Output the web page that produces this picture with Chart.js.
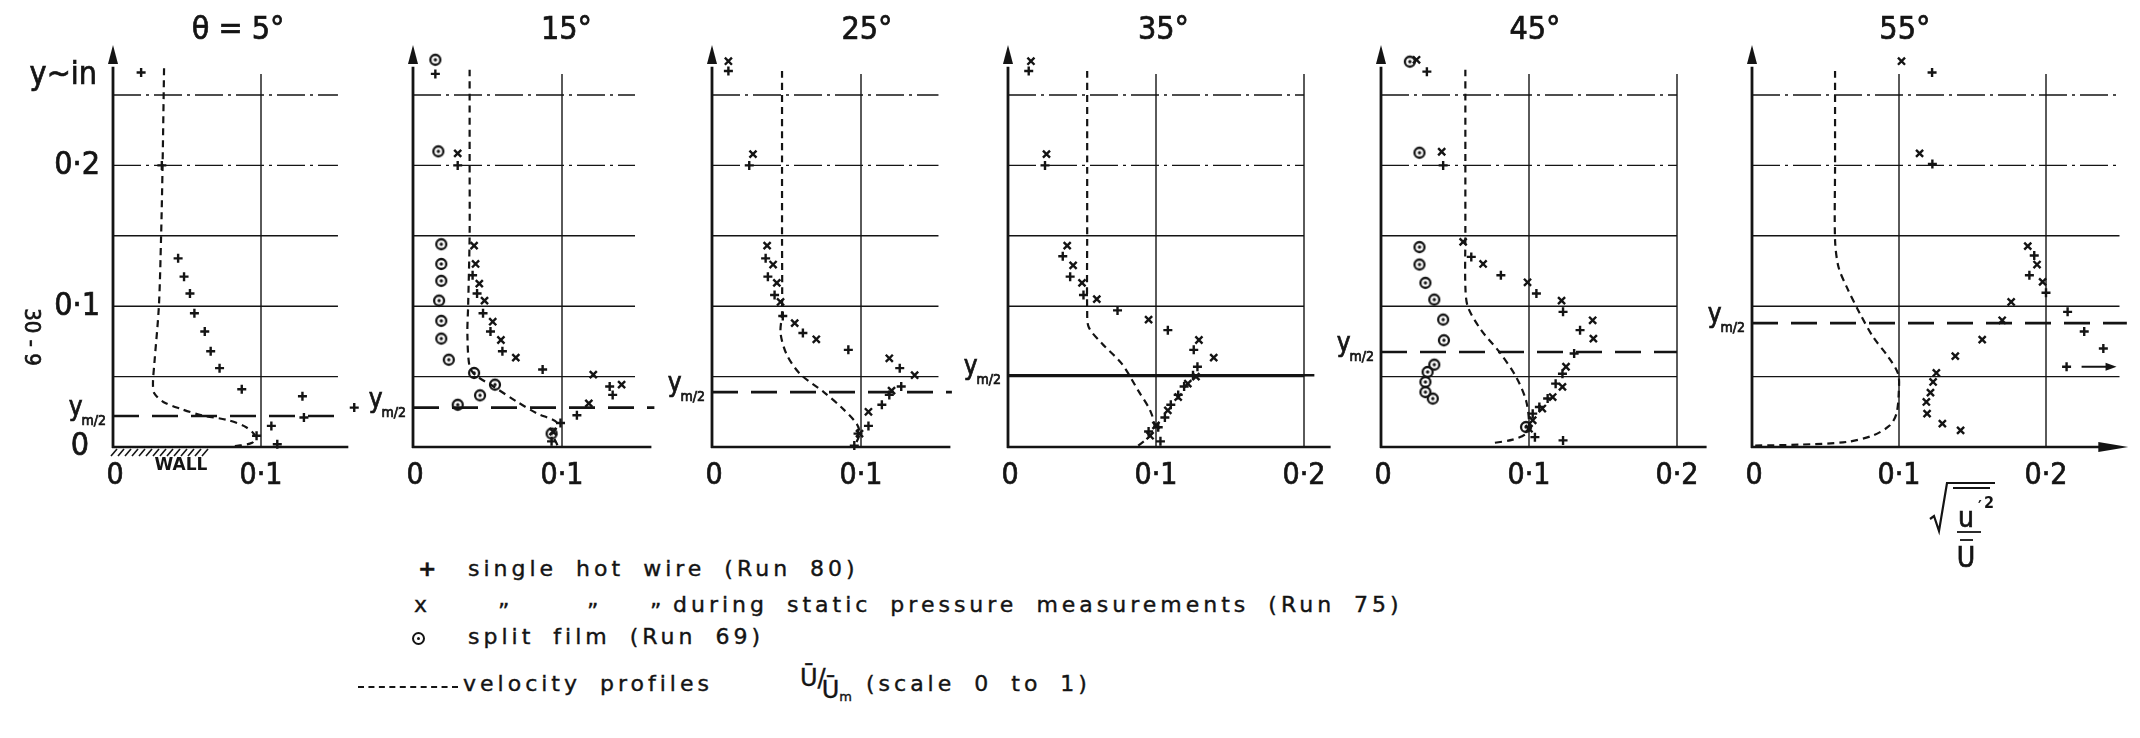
<!DOCTYPE html>
<html lang="en">
<head>
<meta charset="UTF-8" />
<title>u' intensity profiles, theta = 5 to 55 deg</title>
<script src="https://cdn.jsdelivr.net/npm/chart.js"></script>
<style>
  body {
    margin: 0;
    background: #fff;
    width: 2140px;
    height: 738px;
    position: relative;
    overflow: hidden;
    font-family: 'DejaVu Sans', sans-serif;
    color: #141414;
  }
  canvas.panel { position: absolute; top: 0; }
  .leg {
    position: absolute;
    font-size: 22px;
    line-height: 22px;
    letter-spacing: 4px;
    word-spacing: 8px;
    white-space: nowrap;
    -webkit-text-stroke: 0.4px #141414;
  }
  .sym { letter-spacing: 0; }
  .ring {
    position: absolute;
    width: 9px; height: 9px;
    border: 2px solid #141414;
    border-radius: 50%;
  }
  .ring::after {
    content: '';
    position: absolute;
    left: 3px; top: 3px;
    width: 3px; height: 3px;
    border-radius: 50%;
    background: #141414;
  }
  .dash {
    position: absolute;
    height: 0;
    border-top: 2px dashed #141414;
  }
  .frac { letter-spacing: 0; font-size: 24px; }
  .frac .den { position: relative; top: 12px; margin-left: -4px; }
  .frac sub { font-size: 13px; vertical-align: -3px; }
</style>
</head>
<body>

<!-- legend -->
<div class="leg sym" style="left:418px; top:558px; font-weight:bold;">+</div>
<div class="leg" style="left:468px; top:558px;">single hot wire (Run 80)</div>

<div class="leg sym" style="left:414px; top:594px;">x</div>
<div class="leg sym" style="left:498px; top:601px;">”</div>
<div class="leg sym" style="left:587px; top:601px;">”</div>
<div class="leg sym" style="left:650px; top:601px;">”</div>
<div class="leg" style="left:673px; top:594px;">during static pressure measurements (Run 75)</div>

<div class="ring" style="left:412px; top:632px;"></div>
<div class="leg" style="left:468px; top:626px;">split film (Run 69)</div>

<div class="dash" style="left:358px; width:100px; top:686px;"></div>
<div class="leg" style="left:463px; top:673px;">velocity profiles</div>
<div class="leg frac" style="left:800px; top:667px;">Ū/<span class="den">Ū<sub>m</sub></span></div>
<div class="leg" style="left:866px; top:673px;">(scale 0 to 1)</div>

<script>
  // ---- data (x = sqrt(u'^2)/U, y in inches) ----
  const titles = ['θ = 5°', '15°', '25°', '35°', '45°', '55°'];
  const gridLevels = [0.05, 0.1, 0.15, 0.2, 0.25];
  const yTicks5 = [0, 0.1, 0.2];
  const ymHalf = [0.022, 0.028, 0.039, 0.051, 0.0675, 0.088];

  const wire5 = [[0.019,0.266],[0.033,0.200],[0.044,0.134],[0.048,0.121],[0.052,0.109],[0.055,0.095],[0.062,0.082],[0.066,0.068],[0.072,0.056],[0.087,0.041],[0.128,0.036],[0.163,0.028],[0.129,0.021],[0.107,0.015],[0.097,0.008],[0.111,0.002]];
  const profile5 = [[0.0345,0.269],[0.0335,0.200],[0.0325,0.150],[0.031,0.100],[0.028,0.060],[0.027,0.045],[0.028,0.038],[0.034,0.032],[0.046,0.027],[0.060,0.0225],[0.078,0.019],[0.090,0.014],[0.096,0.008],[0.094,0.003],[0.082,0.0005]];

  const wire15 = [[0.015,0.265],[0.030,0.200],[0.040,0.122],[0.043,0.109],[0.047,0.095],[0.052,0.082],[0.060,0.068],[0.087,0.055],[0.132,0.043],[0.134,0.037],[0.110,0.0225],[0.099,0.017],[0.093,0.004]];
  const static15 = [[0.030,0.2085],[0.041,0.143],[0.042,0.130],[0.0445,0.116],[0.048,0.104],[0.0535,0.089],[0.059,0.076],[0.069,0.0635],[0.121,0.0514],[0.140,0.0443],[0.118,0.031],[0.094,0.011]];
  const film15 = [[0.015,0.275],[0.017,0.210],[0.019,0.144],[0.019,0.130],[0.019,0.118],[0.0175,0.104],[0.019,0.0896],[0.019,0.077],[0.024,0.062],[0.041,0.0526],[0.055,0.0443],[0.045,0.0367],[0.030,0.030],[0.093,0.0095]];
  const profile15 = [[0.038,0.268],[0.038,0.200],[0.038,0.150],[0.037,0.100],[0.0365,0.080],[0.038,0.057],[0.042,0.051],[0.054,0.043],[0.070,0.032],[0.083,0.024],[0.097,0.017],[0.094,0.0095],[0.097,0.001]];

  const wire25 = [[0.011,0.267],[0.025,0.200],[0.036,0.134],[0.0375,0.121],[0.042,0.108],[0.0475,0.093],[0.061,0.081],[0.0915,0.069],[0.126,0.056],[0.127,0.043],[0.119,0.037],[0.114,0.030],[0.105,0.015],[0.098,0.0095],[0.0955,0.001]];
  const static25 = [[0.011,0.274],[0.0275,0.208],[0.037,0.143],[0.041,0.1296],[0.0435,0.1166],[0.046,0.103],[0.0555,0.088],[0.070,0.0765],[0.119,0.063],[0.136,0.051],[0.1205,0.040],[0.105,0.025],[0.099,0.0095]];
  const profile25 = [[0.047,0.267],[0.047,0.200],[0.047,0.150],[0.047,0.095],[0.046,0.081],[0.050,0.066],[0.059,0.052],[0.075,0.039],[0.087,0.028],[0.097,0.0166],[0.099,0.0095],[0.0955,0]];

  const wire35 = [[0.014,0.267],[0.025,0.200],[0.037,0.1355],[0.042,0.121],[0.051,0.108],[0.074,0.097],[0.108,0.083],[0.1255,0.069],[0.128,0.057],[0.125,0.051],[0.119,0.043],[0.115,0.037],[0.110,0.030],[0.106,0.021],[0.1015,0.014],[0.095,0.011],[0.103,0.004]];
  const static35 = [[0.0155,0.274],[0.026,0.208],[0.040,0.143],[0.044,0.129],[0.050,0.1166],[0.060,0.105],[0.095,0.0905],[0.129,0.076],[0.139,0.0635],[0.127,0.050],[0.1215,0.045],[0.115,0.0355],[0.108,0.026],[0.100,0.0154],[0.096,0.008]];
  const profile35 = [[0.0535,0.267],[0.0535,0.200],[0.0535,0.150],[0.0535,0.097],[0.0546,0.085],[0.0635,0.0735],[0.077,0.059],[0.088,0.040],[0.096,0.026],[0.099,0.014],[0.095,0.007],[0.088,0.001]];

  const wire45 = [[0.031,0.2666],[0.042,0.200],[0.061,0.135],[0.081,0.122],[0.105,0.109],[0.123,0.096],[0.1345,0.083],[0.1305,0.0664],[0.1226,0.052],[0.118,0.045],[0.1126,0.0344],[0.107,0.0284],[0.1025,0.0237],[0.104,0.007],[0.123,0.0047]];
  const static45 = [[0.024,0.275],[0.041,0.2097],[0.0555,0.1457],[0.069,0.130],[0.099,0.117],[0.122,0.104],[0.143,0.090],[0.1435,0.077],[0.125,0.057],[0.1226,0.0427],[0.116,0.0355],[0.109,0.0273],[0.1025,0.019],[0.100,0.013]];
  const film45 = [[0.0195,0.2737],[0.026,0.209],[0.026,0.142],[0.026,0.1296],[0.030,0.1166],[0.036,0.1047],[0.042,0.0905],[0.0425,0.0758],[0.036,0.0585],[0.0315,0.0533],[0.030,0.0462],[0.030,0.039],[0.035,0.0344],[0.098,0.0142]];
  const profile45 = [[0.057,0.268],[0.057,0.200],[0.057,0.150],[0.057,0.114],[0.0587,0.0995],[0.0677,0.083],[0.080,0.0675],[0.0913,0.0498],[0.098,0.033],[0.100,0.0166],[0.098,0.0095],[0.089,0.0052],[0.0756,0.0028]];

  const wire55 = [[0.1225,0.266],[0.1227,0.201],[0.192,0.136],[0.1887,0.122],[0.200,0.1095],[0.2147,0.096],[0.226,0.082],[0.239,0.070],[0.214,0.057]];
  const static55 = [[0.1017,0.274],[0.114,0.2085],[0.1876,0.1427],[0.1939,0.1296],[0.1977,0.1173],[0.1763,0.103],[0.1702,0.090],[0.1566,0.0763],[0.1383,0.0645],[0.1254,0.0526],[0.1232,0.0462],[0.1214,0.0386],[0.1186,0.032],[0.1191,0.0237],[0.1295,0.0166],[0.1419,0.0118]];
  const profile55 = [[0.0565,0.267],[0.0565,0.200],[0.0565,0.147],[0.0588,0.128],[0.0644,0.1137],[0.0734,0.0948],[0.0825,0.078],[0.0927,0.064],[0.0994,0.052],[0.0999,0.040],[0.0983,0.0237],[0.0938,0.0154],[0.0825,0.0083],[0.0644,0.0036],[0.0328,0.0017],[0.001,0.001]];

  const series = [
    { wire: wire5,  stat: [],       film: [],     prof: profile5 },
    { wire: wire15, stat: static15, film: film15, prof: profile15 },
    { wire: wire25, stat: static25, film: [],     prof: profile25 },
    { wire: wire35, stat: static35, film: [],     prof: profile35 },
    { wire: wire45, stat: static45, film: film45, prof: profile45 },
    { wire: wire55, stat: static55, film: [],     prof: profile55 },
  ];

  // ---- page layout of the six panels ----
  const INK = '#141414';
  const NARROW = '"Liberation Sans Narrow", "DejaVu Sans Condensed", "DejaVu Sans", sans-serif';
  const AXIS_Y = 447, PX_Y = 1408, Y_MAX = 0.3, H = 600, PAD_L = 100;

  const layout = [
    { x0: 113,  x01: 261,  xmax: 0.159, gridEnd: 0.152, ymEnd: 0.155, titleAt: 0.0845, xTicks: [0, 0.1] },
    { x0: 413,  x01: 562,  xmax: 0.160, gridEnd: 0.149, ymEnd: 0.162, titleAt: 0.103,  xTicks: [0, 0.1] },
    { x0: 712,  x01: 861,  xmax: 0.160, gridEnd: 0.152, ymEnd: 0.161, titleAt: 0.104,  xTicks: [0, 0.1] },
    { x0: 1008, x01: 1156, xmax: 0.218, gridEnd: 0.200, ymEnd: 0.207, titleAt: 0.105,  xTicks: [0, 0.1, 0.2], ymSolid: true },
    { x0: 1381, x01: 1529, xmax: 0.220, gridEnd: 0.200, ymEnd: 0.200, titleAt: 0.104,  xTicks: [0, 0.1, 0.2] },
    { x0: 1752, x01: 1899, xmax: 0.256, gridEnd: 0.250, ymEnd: 0.255, titleAt: 0.104,  xTicks: [0, 0.1, 0.2], xArrow: true },
  ];

  const pt = a => a.map(([x, y]) => ({ x, y }));
  const fmt = v => v === 0 ? '0' : v.toFixed(1).replace('.', '·');

  // circle-with-dot marker for the split film
  const filmMark = document.createElement('canvas');
  filmMark.width = filmMark.height = 16;
  (function () {
    const g = filmMark.getContext('2d');
    g.strokeStyle = INK; g.fillStyle = INK; g.lineWidth = 2.3;
    g.beginPath(); g.arc(8, 8, 5, 0, 2 * Math.PI); g.stroke();
    g.beginPath(); g.arc(8, 8, 1.7, 0, 2 * Math.PI); g.fill();
  })();

  function line(ctx, x1, y1, x2, y2) {
    ctx.beginPath(); ctx.moveTo(x1, y1); ctx.lineTo(x2, y2); ctx.stroke();
  }

  // filled text with a thin outline, to get the heavier scanned lettering
  function ink(ctx, text, x, y) {
    ctx.fillText(text, x, y);
    ctx.lineWidth = 0.7;
    ctx.strokeText(text, x, y);
  }

  function drawYm(ctx, right, y) {
    ctx.save();
    ctx.textAlign = 'left'; ctx.textBaseline = 'alphabetic';
    ctx.font = `26px ${NARROW}`; const wy = ctx.measureText('y').width;
    ctx.font = `14px ${NARROW}`; const ws = ctx.measureText('m/2').width;
    const left = right - wy - ws;
    ctx.font = `26px ${NARROW}`; ink(ctx, 'y', left, y - 1);
    ctx.font = `14px ${NARROW}`; ink(ctx, 'm/2', left + wy - 1, y + 9);
    ctx.restore();
  }

  function makeDecor(i, left) {
    const L = layout[i];
    const P = xPage => xPage - left;
    return {
      id: 'decor' + i,
      beforeDatasetsDraw(chart) {
        const ctx = chart.ctx, xs = chart.scales.x, ys = chart.scales.y;
        const X = v => xs.getPixelForValue(v), Y = v => ys.getPixelForValue(v);
        ctx.save();
        ctx.strokeStyle = INK;
        ctx.lineWidth = 1.4;
        gridLevels.forEach(g => {
          ctx.setLineDash(g >= 0.2 ? [28, 5, 3, 5] : []);
          line(ctx, X(0), Y(g), X(L.gridEnd), Y(g));
        });
        ctx.setLineDash([]);
        L.xTicks.filter(t => t > 0).forEach(t => line(ctx, X(t), Y(0), X(t), Y(0.265)));
        ctx.lineWidth = 2.6;
        ctx.setLineDash(L.ymSolid ? [] : [26, 13]);
        line(ctx, X(0), Y(ymHalf[i]), X(L.ymEnd), Y(ymHalf[i]));
        ctx.restore();
      },
      afterDatasetsDraw(chart) {
        const ctx = chart.ctx, xs = chart.scales.x, ys = chart.scales.y;
        const X = v => xs.getPixelForValue(v), Y = v => ys.getPixelForValue(v);
        ctx.save();
        ctx.strokeStyle = INK; ctx.fillStyle = INK;

        // axes with arrow heads
        ctx.lineWidth = 2.8;
        line(ctx, X(0), Y(0) + 1, X(0), Y(0.27));
        ctx.beginPath();
        ctx.moveTo(X(0), Y(0.2855)); ctx.lineTo(X(0) - 5, Y(0.2855) + 19); ctx.lineTo(X(0) + 5, Y(0.2855) + 19);
        ctx.closePath(); ctx.fill();
        ctx.lineWidth = 2.4;
        line(ctx, X(0) - 1, Y(0), X(L.xmax) - (L.xArrow ? 20 : 0), Y(0));
        if (L.xArrow) {
          const tx = X(L.xmax);
          ctx.beginPath(); ctx.moveTo(tx, Y(0)); ctx.lineTo(tx - 30, Y(0) - 5); ctx.lineTo(tx - 30, Y(0) + 5);
          ctx.closePath(); ctx.fill();
        }

        // tick labels and title
        ctx.textAlign = 'center'; ctx.textBaseline = 'middle';
        ctx.font = `30px ${NARROW}`;
        L.xTicks.forEach(t => ink(ctx, fmt(t), X(t) + (t === 0 ? 2 : 0), 476));
        ctx.font = `32px ${NARROW}`;
        ink(ctx, titles[i], X(L.titleAt), 31);

        drawYm(ctx, X(0) - 6, Y(ymHalf[i]));

        if (i === 0) {
          ctx.textAlign = 'right';
          ctx.font = `32px ${NARROW}`;
          yTicks5.forEach(t => ink(ctx, fmt(t), t === 0 ? P(89) : P(100), Y(t)));
          ink(ctx, 'y~in', P(97), 76);
          // rotated figure number
          ctx.save();
          ctx.translate(P(31), 337); ctx.rotate(Math.PI / 2);
          ctx.textAlign = 'center'; ctx.font = `22px ${NARROW}`;
          ink(ctx, '30 - 9', 0, 0);
          ctx.restore();
          // wall hatching
          ctx.lineWidth = 1.6;
          for (let hx = P(111); hx < P(206); hx += 7) line(ctx, hx + 6, Y(0) + 2, hx, Y(0) + 9);
          ctx.textAlign = 'center';
          ctx.font = `bold 17px 'DejaVu Sans', sans-serif`;
          ctx.fillText('WALL', P(181), 466);
        }

        if (i === 5) {
          // off-scale arrow next to the last single-wire point
          const last = wire55[wire55.length - 1];
          const ax = X(last[0]), ay = Y(last[1]);
          ctx.lineWidth = 2;
          line(ctx, ax + 15, ay, ax + 42, ay);
          ctx.beginPath(); ctx.moveTo(ax + 50, ay); ctx.lineTo(ax + 39, ay - 4); ctx.lineTo(ax + 39, ay + 4);
          ctx.closePath(); ctx.fill();

          // axis quantity: sqrt(u'^2) / U
          ctx.lineWidth = 2.2;
          ctx.beginPath();
          ctx.moveTo(P(1930), 519); ctx.lineTo(P(1934), 516); ctx.lineTo(P(1939), 531);
          ctx.lineTo(P(1947), 483); ctx.lineTo(P(1995), 483);
          ctx.stroke();
          ctx.lineWidth = 1.8;
          line(ctx, P(1953), 488, P(1990), 488);
          line(ctx, P(1957), 532, P(1981), 532);
          line(ctx, P(1960), 540, P(1973), 540);
          ctx.textAlign = 'center'; ctx.textBaseline = 'alphabetic';
          ctx.font = `28px ${NARROW}`;
          ink(ctx, 'u', P(1966), 527);
          ink(ctx, 'U', P(1966), 567);
          ctx.font = `bold 16px ${NARROW}`;
          ctx.fillText('′', P(1980), 512);
          ctx.fillText('2', P(1989), 508);
        }
        ctx.restore();
      }
    };
  }

  layout.forEach((L, i) => {
    const pxPerUnit = (L.x01 - L.x0) * 10;
    const plotW = L.xmax * pxPerUnit;
    const width = Math.round(PAD_L + plotW + 30);
    const left = L.x0 - PAD_L;
    const canvas = document.createElement('canvas');
    canvas.className = 'panel';
    canvas.width = width; canvas.height = H;
    canvas.style.left = left + 'px';
    document.body.appendChild(canvas);

    const s = series[i];
    const common = { clip: false, borderColor: INK, backgroundColor: INK };
    new Chart(canvas, {
      type: 'scatter',
      data: {
        datasets: [
          { ...common, label: 'velocity profile', data: pt(s.prof), showLine: true, pointRadius: 0,
            borderWidth: 2.2, borderDash: [7, 5], tension: 0.3 },
          { ...common, label: 'split film (Run 69)', data: pt(s.film), pointStyle: filmMark },
          { ...common, label: 'single hot wire (Run 80)', data: pt(s.wire), pointStyle: 'cross', pointRadius: 4.5, borderWidth: 2.4 },
          { ...common, label: 'during static pressure measurements (Run 75)', data: pt(s.stat), pointStyle: 'crossRot', pointRadius: 5, borderWidth: 2.4 },
        ]
      },
      options: {
        responsive: false,
        animation: false,
        devicePixelRatio: 1,
        events: [],
        layout: { padding: { left: PAD_L, right: width - PAD_L - plotW, top: AXIS_Y - Y_MAX * PX_Y, bottom: H - AXIS_Y } },
        scales: {
          x: { type: 'linear', min: 0, max: L.xmax, display: false },
          y: { type: 'linear', min: 0, max: Y_MAX, display: false }
        },
        plugins: { legend: { display: false }, tooltip: { enabled: false } }
      },
      plugins: [makeDecor(i, left)]
    });
  });
</script>
</body>
</html>
